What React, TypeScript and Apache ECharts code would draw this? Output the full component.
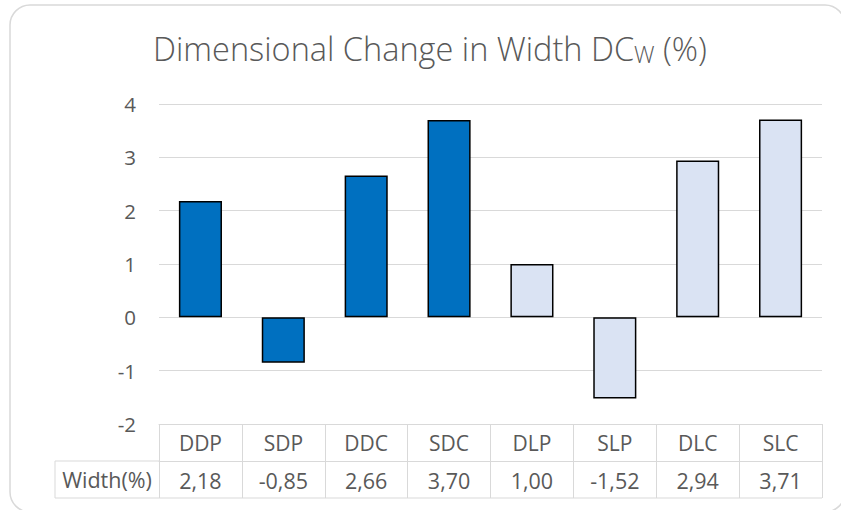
import React, { useEffect, useRef } from "react";
import * as echarts from "echarts";

const categories = ["DDP", "SDP", "DDC", "SDC", "DLP", "SLP", "DLC", "SLC"];
const widthValues = [2.18, -0.85, 2.66, 3.7, 1.0, -1.52, 2.94, 3.71];
const darkGroupCount = 4;
const yTicks = { min: -2, max: 4, interval: 1 };
const rowLabel = "Width(%)";

const FONT = "'Open Sans', 'Noto Sans', sans-serif";
const TEXT = "#595959";
const LINE = "#d9d9d9";

export default function App() {
  const ref = useRef<HTMLDivElement>(null);
  useEffect(() => {
    if (!ref.current) return;
    const chart = echarts.init(ref.current, undefined, { renderer: "svg" });
    const gridLeft = 159;
    const gridRight = 19;
    const gridTop = 104;
    const gridBottom = 86;
    const H = 510;
    const axisY = H - gridBottom;
    const rowH = 37;
    const tableLeft = 55;
    chart.setOption({
      animation: false,
      backgroundColor: "#ffffff",
      title: {
        text: "Dimensional Change in Width DC{s|W} (%)",
        left: 425,
        textAlign: "center",
        top: 27,
        textStyle: {
          fontFamily: FONT,
          fontWeight: 300,
          fontSize: 32.5,
          color: TEXT,
          rich: {
            s: { fontFamily: FONT, fontSize: 23, color: TEXT, verticalAlign: "bottom", padding: [9, 0, 0, 0] },
          },
        },
      },
      grid: { left: gridLeft, right: gridRight, top: gridTop, bottom: gridBottom },
      xAxis: [
        {
          type: "category",
          data: categories,
          position: "bottom",
          axisLine: { show: true, onZero: false, lineStyle: { color: LINE, width: 1 } },
          axisTick: { show: true, length: rowH * 2, interval: 0, lineStyle: { color: LINE } },
          axisLabel: { margin: 8, fontFamily: FONT, fontSize: 21, color: TEXT, interval: 0 },
        },
        {
          type: "category",
          data: widthValues.map((v) => v.toFixed(2).replace(".", ",")),
          position: "bottom",
          offset: rowH,
          axisLine: { show: true, onZero: false, lineStyle: { color: LINE, width: 1 } },
          axisTick: { show: false },
          axisLabel: { margin: 8, fontFamily: FONT, fontSize: 21.5, color: TEXT, interval: 0 },
        },
      ],
      yAxis: {
        type: "value",
        min: yTicks.min,
        max: yTicks.max,
        interval: yTicks.interval,
        axisLine: { show: false },
        axisTick: { show: false },
        splitLine: { lineStyle: { color: LINE, width: 1 } },
        axisLabel: { margin: 23, fontFamily: FONT, fontSize: 20.5, color: TEXT },
      },
      series: [
        {
          type: "bar",
          xAxisIndex: 0,
          data: widthValues,
          barWidth: "52%",
          itemStyle: {
            color: (p: any) => (p.dataIndex < darkGroupCount ? "#0070C0" : "#DAE3F3"),
            borderColor: "#000000",
            borderWidth: 1.5,
          },
        },
      ],
      graphic: [
        {
          type: "rect",
          shape: { x: 10, y: 5, width: 835, height: 507, r: 20 },
          style: { fill: "none", stroke: LINE, lineWidth: 1.5 },
          silent: true,
        },
        {
          type: "line",
          shape: { x1: tableLeft, y1: axisY + rowH * 2, x2: 841 - gridRight, y2: axisY + rowH * 2 },
          style: { stroke: LINE, lineWidth: 1 },
        },
        {
          type: "line",
          shape: { x1: tableLeft, y1: axisY + rowH, x2: gridLeft, y2: axisY + rowH },
          style: { stroke: LINE, lineWidth: 1 },
        },
        {
          type: "line",
          shape: { x1: tableLeft, y1: axisY + rowH, x2: tableLeft, y2: axisY + rowH * 2 },
          style: { stroke: LINE, lineWidth: 1 },
        },
        {
          type: "text",
          x: (tableLeft + gridLeft) / 2,
          y: axisY + rowH * 1.5,
          style: {
            text: rowLabel,
            fontFamily: FONT,
            fontSize: 21.5,
            fill: TEXT,
            align: "center",
            verticalAlign: "middle",
          },
        },
      ],
    });
    return () => chart.dispose();
  }, []);
  return <div ref={ref} style={{ width: 841, height: 510, position: "absolute", left: 0, top: 0 }} />;
}
